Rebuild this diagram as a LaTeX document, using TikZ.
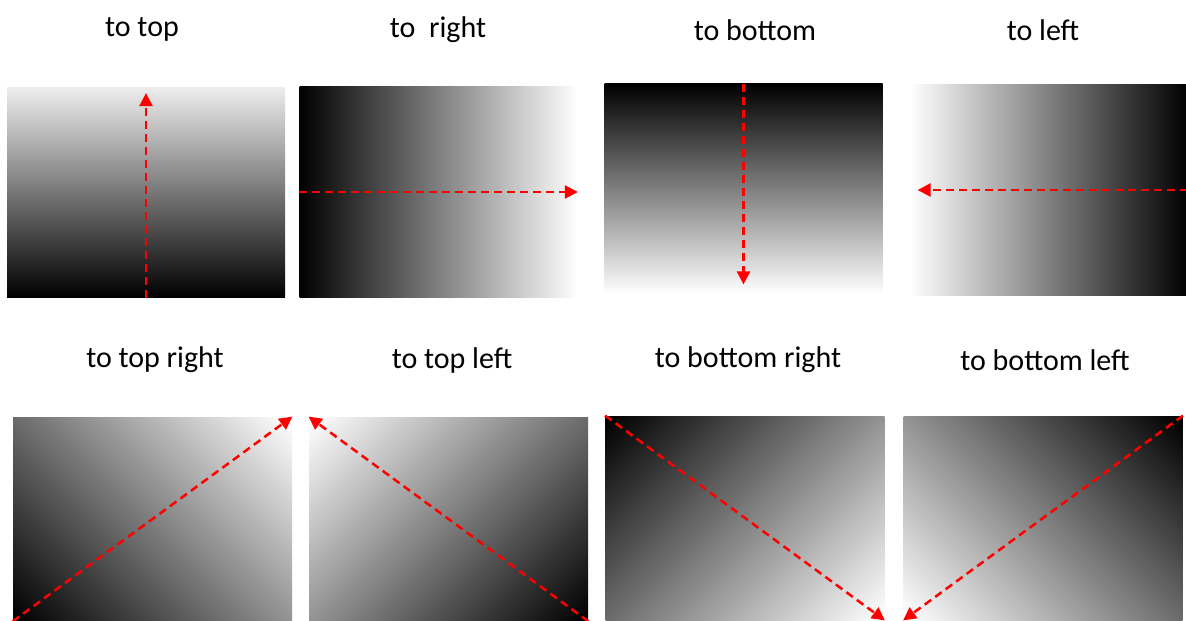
\documentclass[tikz,border=0pt]{standalone}
\usepackage{fontspec}
\setmainfont{Carlito}
\usepackage{tikz}
\usetikzlibrary{arrows.meta}
\pgfdeclareverticalshading{diagup}{100bp}{color(0bp)=(black); color(15bp)=(black); color(85bp)=(white); color(100bp)=(white)}

\begin{document}
\begin{tikzpicture}[
  x=0.5pt, y=-0.5pt,
  font=\fontsize{15}{18}\selectfont,
  card/.style={rectangle, inner sep=0pt, minimum width=139pt, minimum height=105pt},
  lowcard/.style={rectangle, inner sep=0pt, minimum width=139.5pt, minimum height=102pt, shading=diagup},
  dir/.style={red, line width=1.25pt, dash pattern=on 4pt off 2.5pt,
    -{Triangle[length=6.5pt, width=6.5pt]}}
]
\useasboundingbox (0,0) rectangle (1186,620);
% top row
\node (t1) at (142,29) {to top};
\node (t2) at (438,30) {to\ \ right};
\node (t3) at (755,30) {to bottom};
\node (t4) at (1043,30) {to left};
\node[card, top color=white!93!black, bottom color=black] (b1) at (146,192.5) {};
\node[card, left color=black, right color=white] (b2) at (438.5,192) {};
\node[card, top color=black, bottom color=white] (b3) at (743.5,189) {};
\node[card, left color=white, right color=black] (b4) at (1049,190) {};
\draw[dir, shorten >=3pt] (b1.south) -- (b1.north);
\draw[dir] (b2.west) -- (b2.east);
\draw[dir, shorten >=5pt] (b3.north) -- (b3.south);
\draw[dir, shorten >=4pt] (b4.east) -- (b4.west);
% bottom row
\node (t5) at (155,360) {to top right};
\node (t6) at (452,360) {to top left};
\node (t7) at (748,360) {to bottom right};
\node (t8) at (1045,360) {to bottom left};
\node[lowcard, shading angle=-45] (b5) at (152.5,519) {};
\node[lowcard, shading angle=45] (b6) at (448.5,519) {};
\node[lowcard, shading angle=-135] (b7) at (745,518) {};
\node[lowcard, shading angle=135] (b8) at (1043,518) {};
\draw[dir] (b5.south west) -- (b5.north east);
\draw[dir] (b6.south east) -- (b6.north west);
\draw[dir] (b7.north west) -- (b7.south east);
\draw[dir] (b8.north east) -- (b8.south west);
\end{tikzpicture}
\end{document}
